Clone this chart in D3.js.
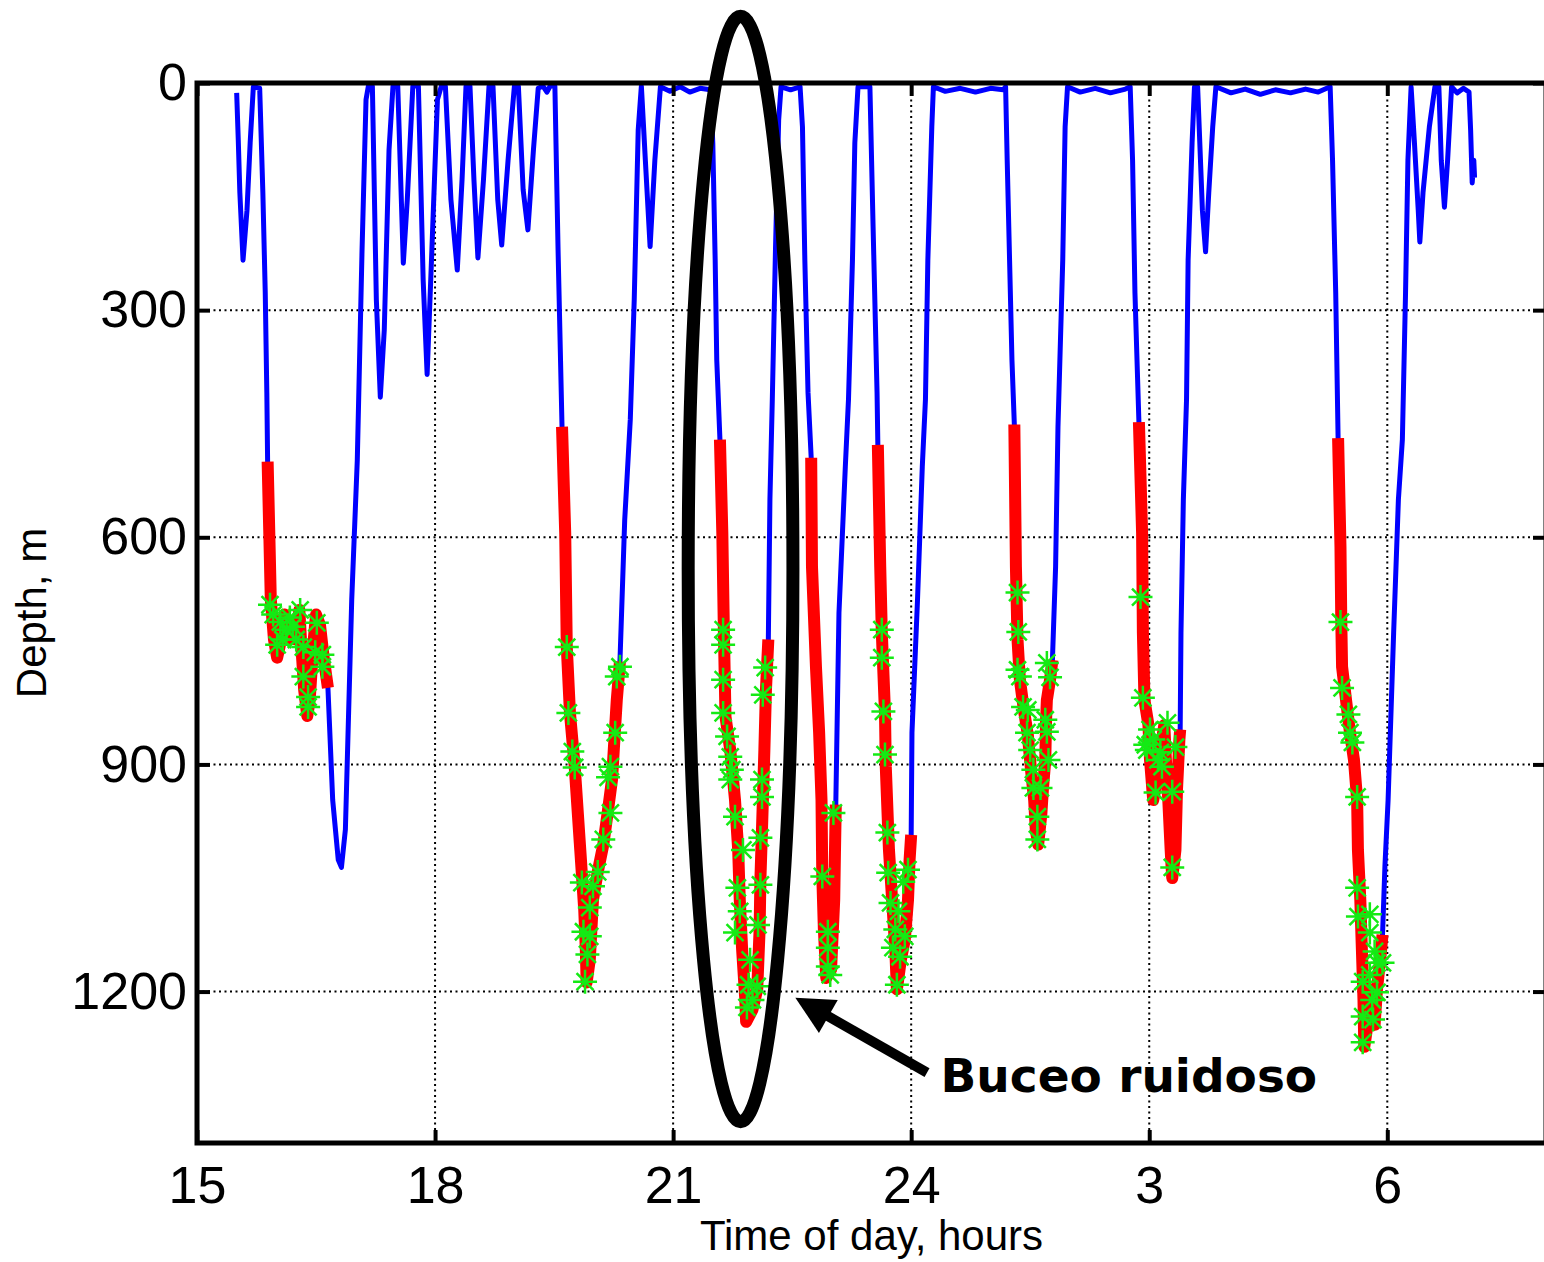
<!DOCTYPE html>
<html>
<head>
<meta charset="utf-8">
<script src="https://cdn.jsdelivr.net/npm/d3@7"></script>
<style>
  body { margin: 0; background: #fff; }
  svg { display: block; }
</style>
</head>
<body>
<div id="diveChart"></div>
<script>
// dive track: time of day (hours, >24 = next day) and depth (m)
var trackHour = [
  15.50, 15.52, 15.54, 15.58, 15.63, 15.67, 15.71, 15.79, 15.83, 15.86, 15.88,
  15.89, 15.91, 15.93, 15.97, 16.01, 16.06, 16.10, 16.13, 16.18, 16.24, 16.29, 16.31, 16.35, 16.39, 16.42, 16.46, 16.50, 16.55, 16.60, 16.65,
  16.71, 16.78, 16.82, 16.87, 16.95, 17.02, 17.08, 17.13, 17.16,
  17.21, 17.26, 17.31, 17.36, 17.42, 17.47, 17.53, 17.60, 17.65, 17.72, 17.79, 17.85, 17.90, 17.96, 18.03,
  18.08, 18.13, 18.20, 18.28, 18.34, 18.39, 18.44, 18.49, 18.54, 18.61, 18.68, 18.73, 18.79, 18.84, 18.92,
  19.00, 19.05, 19.11, 19.17, 19.24, 19.30, 19.36, 19.41, 19.45, 19.51, 19.55,
  19.60, 19.64, 19.66, 19.70, 19.76, 19.83, 19.88, 19.90, 19.91, 19.95, 19.99, 20.05, 20.12, 20.18, 20.23, 20.26, 20.29, 20.33,
  20.39, 20.46, 20.51, 20.56, 20.60, 20.65, 20.71, 20.77, 20.84, 20.96, 21.09, 21.21, 21.34, 21.47, 21.50, 21.53, 21.55,
  21.59, 21.62, 21.64, 21.66, 21.72, 21.78, 21.82, 21.84, 21.87, 21.91, 21.92, 22.00, 22.06, 22.09, 22.10, 22.12, 22.15, 22.17, 22.20,
  22.22, 22.25, 22.29, 22.33, 22.36, 22.48, 22.60, 22.63, 22.66, 22.70,
  22.74, 22.75, 22.80, 22.84, 22.87, 22.88, 22.90, 22.93, 22.99, 23.03, 23.04, 23.05,
  23.09, 23.17, 23.21, 23.26, 23.29, 23.33, 23.41, 23.48, 23.52, 23.57,
  23.58, 23.61, 23.63, 23.67, 23.68, 23.72, 23.76, 23.80, 23.82, 23.87, 23.92, 23.96, 23.98, 24.00,
  24.01, 24.08, 24.14, 24.18, 24.21, 24.26, 24.28, 24.43, 24.62, 24.81, 25.00, 25.16, 25.19, 25.21, 25.24, 25.27,
  25.30, 25.32, 25.34, 25.37, 25.42, 25.47, 25.51, 25.55, 25.57, 25.60, 25.64, 25.66, 25.69, 25.70, 25.71, 25.75, 25.78,
  25.82, 25.85, 25.91, 25.94, 25.97, 26.13, 26.32, 26.51, 26.70, 26.76, 26.79, 26.82,
  26.87, 26.91, 26.92, 26.94, 26.99, 27.01, 27.05, 27.10, 27.14, 27.19, 27.21, 27.24, 27.27, 27.29, 27.33, 27.35, 27.38, 27.39,
  27.40, 27.43, 27.47, 27.49, 27.54, 27.57, 27.61, 27.67, 27.71, 27.75, 27.80, 27.84,
  28.03, 28.21, 28.40, 28.59, 28.78, 28.97, 29.13, 29.28, 29.31, 29.35,
  29.38, 29.41, 29.42, 29.43, 29.48, 29.53, 29.58, 29.62, 29.63, 29.66, 29.68, 29.70, 29.71, 29.76, 29.81, 29.84, 29.87, 29.91, 29.94,
  29.97, 30.01, 30.08, 30.14, 30.19, 30.23, 30.26, 30.30, 30.34, 30.39, 30.41, 30.45, 30.53, 30.60,
  30.65, 30.68, 30.72, 30.76, 30.81, 30.88, 30.96, 31.03, 31.05, 31.07, 31.09, 31.10
];
var trackDepth = [
  13, 75, 145, 234, 168, 79, 5, 7, 145, 277, 409,
  500, 590, 682, 735, 759, 735, 702, 735, 716, 735, 696, 735, 801, 836, 815, 749, 702, 716, 762, 799,
  947, 1026, 1036, 986, 682, 498, 220, 22, 4,
  4, 286, 415, 326, 88, 4, 4, 238, 154, 4, 4, 260, 385, 220, 22,
  4, 4, 154, 247, 128, 4, 4, 128, 231, 128, 4, 4, 154, 214, 102,
  4, 4, 141, 194, 88, 7, 4, 12, 4, 4, 220,
  454, 594, 745, 832, 903, 1013, 1092, 1145, 1188, 1158, 1079, 1042, 1006, 960, 920, 867, 815, 764,
  577, 445, 286, 62, 4, 102, 216, 102, 5, 11, 5, 12, 7, 9, 79, 234, 366,
  471, 594, 726, 837, 881, 947, 1013, 1079, 1145, 1211, 1240, 1224, 1197, 1118, 1052, 986, 881, 801, 735,
  550, 418, 220, 49, 5, 9, 5, 58, 234, 409,
  495, 639, 771, 858, 947, 1048, 1118, 1182, 1171, 1079, 1013, 953,
  700, 507, 418, 234, 79, 5, 5, 5, 190, 409,
  478, 639, 726, 832, 903, 1013, 1079, 1145, 1197, 1158, 1131, 1079, 1026, 993,
  858, 682, 507, 418, 234, 58, 5, 11, 7, 12, 7, 9, 5, 102, 234, 366,
  451, 639, 735, 788, 828, 861, 907, 947, 986, 1006, 966, 933, 894, 841, 815, 788, 762,
  639, 454, 234, 58, 5, 12, 7, 13, 8, 5, 102, 277,
  448, 594, 726, 815, 848, 894, 947, 920, 881, 848, 894, 947, 1013, 1050, 1013, 933, 867, 854,
  726, 550, 418, 234, 79, 5, 5, 168, 223, 145, 58, 5,
  13, 8, 15, 9, 13, 8, 12, 5, 102, 277,
  469, 613, 709, 771, 815, 858, 894, 947, 1013, 1079, 1145, 1211, 1273, 1237, 1197, 1244, 1197, 1158, 1125,
  1035, 947, 726, 550, 471, 277, 102, 5, 75, 168, 210, 145, 58, 5,
  5, 102, 164, 102, 5, 13, 7, 12, 62, 132, 102, 125
];

// bottom phases drawn in red
var bottomStart = [15.89, 19.60, 21.59, 22.74, 23.58, 25.30, 26.87, 29.38];
var bottomEnd   = [16.65, 20.33, 22.20, 23.05, 24.00, 25.78, 27.39, 29.94];

// detected clicks (green stars)
var clickHour = [
  15.92, 15.96, 16.01, 16.05, 16.08, 16.13, 16.17, 16.21, 16.25, 16.30, 16.34, 16.34, 16.40, 16.40, 16.49, 16.51, 16.58, 16.58,
  19.66, 19.68, 19.73, 19.76, 19.85, 19.95, 19.87, 19.95, 19.92, 19.89, 20.33, 20.29, 20.27, 20.21, 20.18, 20.21, 20.12, 20.05, 19.99,
  21.63, 21.63, 21.63, 21.63, 21.68, 21.72, 21.74, 21.72, 21.78, 21.88, 21.81, 21.84, 21.78, 21.97, 21.95, 22.00, 21.93,
  22.16, 22.13, 22.12, 22.12, 22.10, 22.10, 22.07, 22.06,
  23.02, 22.88, 22.95, 22.95, 22.95, 22.98,
  23.63, 23.63, 23.65, 23.67, 23.70, 23.71, 23.74, 23.84, 23.80, 23.77, 23.92, 23.96, 23.90, 23.82, 23.86,
  25.34, 25.35, 25.34, 25.37, 25.41, 25.47, 25.46, 25.50, 25.54, 25.54, 25.63, 25.59, 25.59, 25.69, 25.71, 25.73, 25.75, 25.71,
  26.89, 26.92, 27.01, 27.23, 26.97, 27.14, 27.33, 27.16, 27.08, 27.29, 27.05, 27.29, 26.95, 27.11,
  29.41, 29.43, 29.51, 29.53, 29.56, 29.62, 29.62, 29.63, 29.69, 29.69, 29.69, 29.78, 29.78, 29.84, 29.87, 29.78, 29.87, 29.81, 29.82, 29.94
];
var clickDepth = [
  689, 702, 742, 712, 735, 722, 706, 718, 735, 696, 745, 784, 811, 824, 752, 713, 755, 771,
  745, 832, 883, 904, 1056, 1089, 1121, 1127, 1151, 1187, 771, 784, 858, 903, 917, 964, 999, 1042, 1061,
  722, 742, 788, 832, 863, 890, 907, 920, 969, 1013, 1063, 1094, 1122, 1158, 1191, 1211, 1221,
  772, 808, 920, 943, 997, 1059, 1112, 1193,
  964, 1048, 1121, 1142, 1167, 1178,
  722, 759, 830, 887, 990, 1043, 1083, 1094, 1118, 1142, 1127, 1039, 1055, 1191, 1154,
  673, 725, 775, 784, 824, 828, 858, 881, 907, 931, 931, 969, 999, 841, 766, 894, 785, 857,
  679, 812, 854, 845, 881, 884, 877, 903, 937, 936, 867, 1036, 874, 894,
  712, 799, 834, 858, 871, 943, 1063, 1101, 1187, 1233, 1267, 1098, 1122, 1147, 1162, 1178, 1201, 1211, 1237, 1162
];

var xTickValues = [15, 18, 21, 24, 27, 30];
var xTickLabels = ['15', '18', '21', '24', '3', '6'];
var yTickValues = [0, 300, 600, 900, 1200];

// annotation: noisy dive
var noteLabel = 'Buceo ruidoso';
var noteCenter = [21.85, 642], noteRadius = [0.66, 730];
var arrowTail = [24.20, 1307], arrowTip = [22.54, 1208];
var noteTextAt = [24.37, 1332];

var W = 1544, H = 1262;
var margin = { top: 83, right: -2, bottom: 119, left: 197 };
var tickFont = '"Liberation Sans", Arial, Helvetica, sans-serif';

var svg = d3.select('#diveChart').append('svg')
  .attr('width', W)
  .attr('height', H);
svg.append('rect').attr('width', W).attr('height', H).attr('fill', '#fff');

var x = d3.scaleLinear().domain([15, 32]).range([margin.left, W - margin.right]);
var y = d3.scaleLinear().domain([0, 1400]).range([margin.top, H - margin.bottom]);

// dotted grid
var grid = svg.append('g').attr('class', 'grid');
grid.selectAll('.vgrid')
  .data(xTickValues.slice(1))
  .enter()
  .append('line')
  .attr('x1', function(d) { return x(d); })
  .attr('x2', function(d) { return x(d); })
  .attr('y1', y(0))
  .attr('y2', y(1400))
  .attr('stroke', '#000')
  .attr('stroke-width', 2)
  .attr('stroke-dasharray', '2,3.5');
grid.selectAll('.hgrid')
  .data(yTickValues.slice(1))
  .enter()
  .append('line')
  .attr('x1', x(15))
  .attr('x2', x(32))
  .attr('y1', function(d) { return y(d); })
  .attr('y2', function(d) { return y(d); })
  .attr('stroke', '#000')
  .attr('stroke-width', 2)
  .attr('stroke-dasharray', '2,3.5');

var track = trackHour.map(function(h, i) {
  return { hour: h, depth: trackDepth[i] };
});

var line = d3.line()
  .x(function(d) { return x(d.hour); })
  .y(function(d) { return y(d.depth); });

svg.append('path')
  .datum(track)
  .attr('fill', 'none')
  .attr('stroke', '#0000ff')
  .attr('stroke-width', 5)
  .attr('stroke-linejoin', 'round')
  .attr('d', line);

var phases = bottomStart.map(function(s, i) {
  return track.filter(function(d) { return d.hour >= s && d.hour <= bottomEnd[i]; });
});

svg.selectAll('.bottom')
  .data(phases)
  .enter()
  .append('path')
  .attr('class', 'bottom')
  .attr('fill', 'none')
  .attr('stroke', '#ff0000')
  .attr('stroke-width', 12)
  .attr('stroke-linejoin', 'round')
  .attr('d', line);

// asterisk markers
var clicks = clickHour.map(function(h, i) {
  return { hour: h, depth: clickDepth[i] };
});
var starPath = 'M-12,0H12M0,-12V12M-8.5,-8.5L8.5,8.5M-8.5,8.5L8.5,-8.5';
svg.selectAll('.click')
  .data(clicks)
  .enter()
  .append('path')
  .attr('class', 'click')
  .attr('transform', function(d) { return 'translate(' + x(d.hour) + ',' + y(d.depth) + ')'; })
  .attr('d', starPath)
  .attr('fill', 'none')
  .attr('stroke', '#14ea14')
  .attr('stroke-width', 2.5);

// axes, ticks pointing inward
function styleAxis(g) {
  g.select('.domain').remove();
  g.attr('font-size', 52).attr('font-family', tickFont);
  g.selectAll('.tick line').attr('stroke', '#000').attr('stroke-width', 4);
  g.selectAll('.tick text').attr('fill', '#000');
}

var xAxis = d3.axisBottom(x)
  .tickValues(xTickValues)
  .tickFormat(function(d, i) { return xTickLabels[i]; })
  .tickSize(-13)
  .tickPadding(23);
svg.append('g')
  .attr('transform', 'translate(0,' + y(1400) + ')')
  .call(xAxis)
  .call(styleAxis);

svg.append('g')
  .attr('transform', 'translate(0,' + y(0) + ')')
  .call(d3.axisTop(x).tickValues(xTickValues).tickFormat('').tickSize(-13))
  .call(styleAxis);

var yAxis = d3.axisLeft(y)
  .tickValues(yTickValues)
  .tickFormat(d3.format('d'))
  .tickSize(-13)
  .tickPadding(10);
svg.append('g')
  .attr('transform', 'translate(' + x(15) + ',0)')
  .call(yAxis)
  .call(styleAxis);

svg.append('g')
  .attr('transform', 'translate(' + x(32) + ',0)')
  .call(d3.axisRight(y).tickValues(yTickValues).tickFormat('').tickSize(-13))
  .call(styleAxis);

svg.append('rect')
  .attr('x', x(15))
  .attr('y', y(0))
  .attr('width', x(32) - x(15))
  .attr('height', y(1400) - y(0))
  .attr('fill', 'none')
  .attr('stroke', '#000')
  .attr('stroke-width', 5);

svg.append('text')
  .attr('x', (x(15) + x(32)) / 2)
  .attr('y', 1250)
  .attr('text-anchor', 'middle')
  .attr('font-family', tickFont)
  .attr('font-size', 42)
  .text('Time of day, hours');

svg.append('text')
  .attr('transform', 'translate(46,' + (y(0) + y(1400)) / 2 + ') rotate(-90)')
  .attr('text-anchor', 'middle')
  .attr('font-family', tickFont)
  .attr('font-size', 42)
  .text('Depth, m');

// annotation
var note = svg.append('g').attr('class', 'note');
note.append('ellipse')
  .attr('cx', x(noteCenter[0]))
  .attr('cy', y(noteCenter[1]))
  .attr('rx', x(noteCenter[0] + noteRadius[0]) - x(noteCenter[0]))
  .attr('ry', y(noteRadius[1]) - y(0))
  .attr('fill', 'none')
  .attr('stroke', '#000')
  .attr('stroke-width', 13);

var tx = x(arrowTip[0]), ty = y(arrowTip[1]);
var sx = x(arrowTail[0]), sy = y(arrowTail[1]);
var len = Math.sqrt((tx - sx) * (tx - sx) + (ty - sy) * (ty - sy));
var ux = (tx - sx) / len, uy = (ty - sy) / len;
var headLen = 38, headHalf = 19;
var bx = tx - ux * headLen, by = ty - uy * headLen;

note.append('line')
  .attr('x1', sx)
  .attr('y1', sy)
  .attr('x2', bx + ux * 4)
  .attr('y2', by + uy * 4)
  .attr('stroke', '#000')
  .attr('stroke-width', 10);
note.append('path')
  .attr('d', 'M' + tx + ',' + ty +
    'L' + (bx - uy * headHalf) + ',' + (by + ux * headHalf) +
    'L' + (bx + uy * headHalf) + ',' + (by - ux * headHalf) + 'Z')
  .attr('fill', '#000');

note.append('text')
  .attr('x', x(noteTextAt[0]))
  .attr('y', y(noteTextAt[1]))
  .attr('font-family', '"DejaVu Sans", Verdana, sans-serif')
  .attr('font-weight', 'bold')
  .attr('font-size', 47)
  .attr('fill', '#000')
  .text(noteLabel);
</script>
</body>
</html>
